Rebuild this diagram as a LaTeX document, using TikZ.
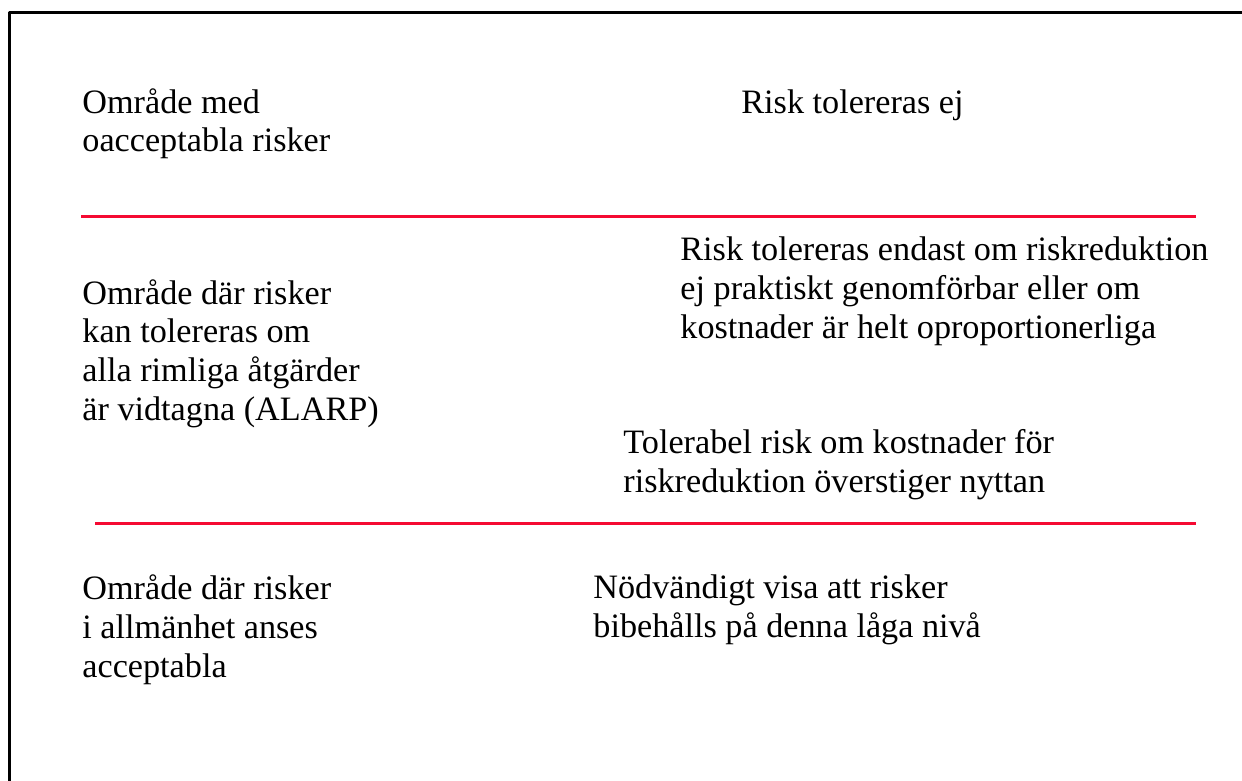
\documentclass[tikz,border=0pt]{standalone}
\usepackage{fontspec}
\setmainfont{Liberation Serif}
\definecolor{zonered}{RGB}{245,10,50}
\begin{document}
\begin{tikzpicture}[x=0.5pt, y=-0.5pt, line join=round,
  zonetext/.style={anchor=base west, align=left, inner sep=0pt, font=\fontsize{17.1}{19.3}\selectfont},
  zoneline/.style={zonered, line width=1.5pt}]
\useasboundingbox (0,0) rectangle (1242,781);
% frame
\draw[line width=1.5pt] (9,781)--(9,13)--(1242,13);
% upper zone
\node[zonetext] (oacc) at (82,152) {Område med\\oacceptabla risker};
\node[zonetext] (ejtol) at (741,113) {Risk tolereras ej};
\coordinate (l1a) at (81,216);
\coordinate (l1b) at (1196,216);
\draw[zoneline] (l1a)--(l1b);
% ALARP zone
\node[zonetext] (alarp) at (82,420) {Område där risker\\kan tolereras om\\alla rimliga åtgärder\\är vidtagna (ALARP)};
\node[zonetext] (endast) at (680,338) {Risk tolereras endast om riskreduktion\\ej praktiskt genomförbar eller om\\kostnader är helt oproportionerliga};
\node[zonetext] (tolbar) at (623,492) {Tolerabel risk om kostnader för\\riskreduktion överstiger nyttan};
\coordinate (l2a) at (95,523);
\coordinate (l2b) at (1196,523);
\draw[zoneline] (l2a)--(l2b);
% lower zone
\node[zonetext] (accept) at (82,677) {Område där risker\\i allmänhet anses\\acceptabla};
\node[zonetext] (lagniva) at (593,637) {Nödvändigt visa att risker\\bibehålls på denna låga nivå};
\end{tikzpicture}
\end{document}
